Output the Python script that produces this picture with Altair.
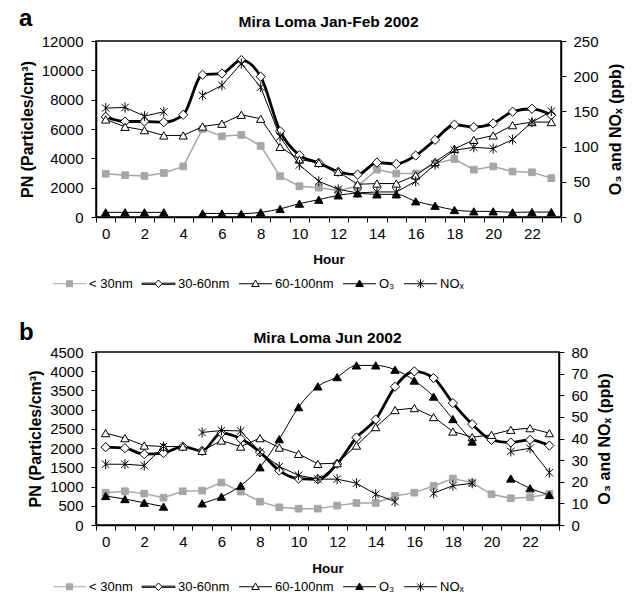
import altair as alt
import pandas as pd

hours = list(range(24))
series_names = ["< 30nm", "30-60nm", "60-100nm", "O₃", "NOₓ"]

# Panel a: Mira Loma Jan-Feb 2002
a_lt30 = [2950, 2850, 2800, 3000, 3450, 6000, 5500, 5600, 4850, 2780, 2100, 2000,
          1800, 2100, 3230, 2960, 2960, 3650, 3950, 3230, 3450, 3100, 3050, 2650]
a_30_60 = [6830, 6510, 6510, 6470, 6970, 9700, 9790, 10700, 9570, 5850, 4210, 3690,
           3080, 2890, 3710, 3620, 4190, 5260, 6290, 6130, 6380, 7180, 7380, 6940]
a_60_100 = [6650, 6150, 5920, 5560, 5560, 6170, 6360, 6970, 6700, 4780, 3920, 3690,
            3080, 2230, 2280, 2280, 2840, 3760, 4650, 5260, 5560, 6260, 6470, 6470]
a_o3 = [6.6, 6.6, 6.6, 6.6, None, 5.0, 5.0, 4.7, 6.6, 11.4, 19.0, 24.6,
        30.8, 33.6, 32.2, 32.2, 22.3, 16.0, 10.0, 8.0, 8.0, 6.6, 7.0, 7.0]
a_nox = [154.7, 155.6, 143.3, 149.5, None, 172.7, 187.0, 218.0, 184.5, 113.9, 74.0, 50.7,
         39.3, 34.2, 35.6, 35.6, 50.7, 74.5, 94.8, 99.0, 97.2, 110.0, 134.7, 150.3]

# Panel b: Mira Loma Jun 2002
b_lt30 = [842, 878, 816, 712, 878, 894, 1103, 869, 608, 460, 425, 425,
          504, 573, 573, 756, 842, 1016, 1208, 1103, 799, 695, 722, 808]
b_30_60 = [2024, 1998, 1842, 1870, 2041, 1928, 2389, 2241, 1894, 1416, 1208, 1190,
           1590, 2276, 2745, 3596, 3996, 3822, 3171, 2623, 2215, 2145, 2215, 2066]
b_60_100 = [2389, 2259, 2067, 2041, 2041, 1928, 2197, 2041, 2259, 2015, 1850, 1590,
            1607, 2067, 2546, 2989, 3041, 2807, 2432, 2285, 2345, 2476, 2519, 2389]
b_o3 = [13.4, 12.0, 10.3, 8.5, None, 10.0, 13.1, 18.2, 26.7, 39.7, 54.5, 64.1,
        68.4, 73.8, 73.8, 71.8, 66.8, 59.4, 49.0, 38.6, None, 21.5, 17.0, 13.9]
b_nox = [28.1, 28.1, 27.5, 36.3, None, 42.8, 43.7, 43.5, 33.7, 27.0, 23.0, 21.2,
         21.2, 19.3, 14.2, 10.8, None, 14.7, 18.2, 19.3, None, 34.0, 35.5, 24.2]

a_pn_ticks = [0, 2000, 4000, 6000, 8000, 10000, 12000]
a_ppb_ticks = [0, 50, 100, 150, 200, 250]
b_pn_ticks = [0, 500, 1000, 1500, 2000, 2500, 3000, 3500, 4000, 4500]
b_ppb_ticks = [0, 10, 20, 30, 40, 50, 60, 70, 80]

FONT = "Liberation Sans"
GRAY = "#a6a6a6"
ASTERISK = "M-1,-1L1,1M-1,1L1,-1M0,-1.35V1.35"

style = {
    "< 30nm":   dict(color=GRAY, width=1.5, interp="linear", shape="square", fill=GRAY, size=45),
    "30-60nm":  dict(color="black", width=2.8, interp="monotone", shape="diamond", fill="white", size=85),
    "60-100nm": dict(color="black", width=1.0, interp="linear", shape="triangle-up", fill="white", size=70),
    "O₃":       dict(color="black", width=1.0, interp="monotone", shape="triangle-up", fill="black", size=70),
    "NOₓ":      dict(color="black", width=1.0, interp="linear", shape=ASTERISK, fill="transparent", size=55),
}
pn_series = ["< 30nm", "30-60nm", "60-100nm"]
ppb_series = ["O₃", "NOₓ"]

legend_paths = [
    "M-3.3,0H3.3M-0.6,-0.6H0.6V0.6H-0.6Z",
    "M-3.3,-0.12H-0.75V0.12H-3.3ZM0.75,-0.12H3.3V0.12H0.75ZM0,-0.75L0.75,0L0,0.75L-0.75,0Z",
    "M-3.3,0H-0.43M0.43,0H3.3M0,-0.75L0.75,0.55L-0.75,0.55Z",
    "M-3.3,0H3.3M0,-0.75L0.75,0.55L-0.75,0.55Z",
    "M-3.3,0H3.3M-0.65,-0.65L0.65,0.65M-0.65,0.65L0.65,-0.65M0,-0.9V0.9",
]
legend_fill = [GRAY, "white", "white", "black", "black"]
legend_stroke = [GRAY, "black", "black", "black", "black"]


def long_df(values_list):
    rows = []
    for name, vals in zip(series_names, values_list):
        for h, v in zip(hours, vals):
            rows.append({"hour": h, "series": name, "value": v})
    return pd.DataFrame(rows)


def panel(df, letter, title, pn_ticks, ppb_ticks, w, h, title_dy, letter_y, hour_pad, legend_y):
    xenc = alt.X(
        "hour:O",
        scale=alt.Scale(type="band", paddingInner=0, paddingOuter=0),
        axis=alt.Axis(title="Hour", labelAngle=0, tickBand="extent",
                      labelExpr="datum.value % 2 == 0 ? datum.label : ''",
                      titlePadding=hour_pad, labelPadding=4, tickSize=5,
                      titleFontSize=13.5),
    )
    y_pn = alt.Y(
        "value:Q",
        scale=alt.Scale(domain=[pn_ticks[0], pn_ticks[-1]], nice=False),
        axis=alt.Axis(values=pn_ticks, format="d", title="PN (Particles/cm³)", orient="left",
                      tickSize=5, labelPadding=8, titlePadding=6),
    )
    y_ppb = alt.Y(
        "value:Q",
        scale=alt.Scale(domain=[ppb_ticks[0], ppb_ticks[-1]], nice=False),
        axis=alt.Axis(values=ppb_ticks, format="d", title="O₃ and NOₓ (ppb)", orient="right",
                      tickSize=5, labelPadding=7, titlePadding=9, titleAngle=270,
                      titleBaseline="top"),
    )
    base = alt.Chart(df)

    def series_layers(names, yenc):
        out = []
        for s in names:
            st = style[s]
            d = base.transform_filter(alt.datum.series == s)
            out.append(d.mark_line(color=st["color"], strokeWidth=st["width"],
                                   interpolate=st["interp"],
                                   invalid="break-paths-filter-domains").encode(x=xenc, y=yenc))
            out.append(d.mark_point(shape=st["shape"], fill=st["fill"], stroke=st["color"],
                                    strokeWidth=1, size=st["size"], opacity=1,
                                    filled=False).encode(x=xenc, y=yenc))
        return out

    leg = alt.Legend(orient="none", legendX=-33, legendY=legend_y, direction="horizontal",
                     columns=5, title=None, symbolSize=100, symbolStrokeWidth=1,
                     labelOffset=13, columnPadding=7, labelFont=FONT, labelFontSize=13,
                     labelColor="black")
    legend_layer = base.transform_filter("false").mark_point(filled=True, opacity=1).encode(
        x=xenc, y=y_pn,
        shape=alt.Shape("series:N", scale=alt.Scale(domain=series_names, range=legend_paths), legend=leg),
        fill=alt.Fill("series:N", scale=alt.Scale(domain=series_names, range=legend_fill), legend=leg),
        stroke=alt.Stroke("series:N", scale=alt.Scale(domain=series_names, range=legend_stroke), legend=leg),
    )

    pn_group = alt.layer(*series_layers(pn_series, y_pn), legend_layer)
    ppb_group = alt.layer(*series_layers(ppb_series, y_ppb))

    letter_layer = alt.Chart(pd.DataFrame({"t": [letter]})).mark_text(
        font=FONT, fontSize=24, fontWeight="bold", align="left", baseline="alphabetic",
        color="black",
    ).encode(text="t:N", x=alt.value(-77), y=alt.value(letter_y))

    return alt.layer(pn_group, ppb_group, letter_layer).resolve_scale(y="independent").properties(
        width=w, height=h,
        title=alt.Title(title, font=FONT, fontSize=15.5, fontWeight="bold", color="black",
                        anchor="middle", offset=0, dy=title_dy),
    )


df_a = long_df([a_lt30, a_30_60, a_60_100, a_o3, a_nox])
df_b = long_df([b_lt30, b_30_60, b_60_100, b_o3, b_nox])

panel_a = panel(df_a, "a", "Mira Loma Jan-Feb 2002", a_pn_ticks, a_ppb_ticks,
                465, 176, 23, -15, 11, 236)
panel_b = panel(df_b, "b", "Mira Loma Jun 2002", b_pn_ticks, b_ppb_ticks,
                463, 173, 25, -12, 12, 228)

chart = alt.vconcat(panel_a, panel_b, spacing=28).resolve_scale(
    x="independent", y="independent", shape="independent", fill="independent", stroke="independent"
).configure_axis(
    labelFont=FONT, titleFont=FONT, labelFontSize=15, titleFontSize=16,
    titleFontWeight="bold", labelColor="black", titleColor="black",
    domainColor="black", tickColor="black", domainWidth=1.5, tickWidth=1, grid=False,
).configure_view(stroke="black", strokeWidth=1.5).properties(
    padding={"left": 18, "top": 6, "right": 4, "bottom": 0}
)

chart.save("out.html", embed_options={"renderer": "svg", "actions": False})
